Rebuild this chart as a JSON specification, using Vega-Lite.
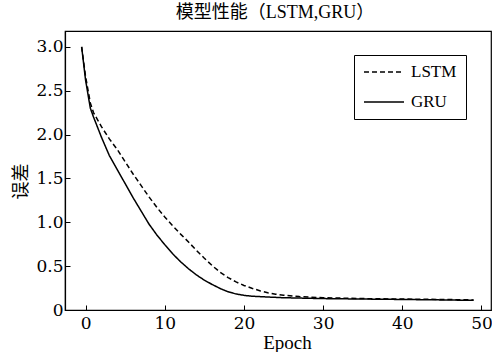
{
  "$schema": "https://vega.github.io/schema/vega-lite/v6.json",
  "autosize": {"type": "none"},
  "width": 426,
  "height": 279,
  "padding": {"left": 65, "top": 31, "right": 1, "bottom": 42},
  "background": "white",
  "title": {
    "text": "模型性能（LSTM,GRU）",
    "font": "Liberation Serif, Noto Sans CJK SC",
    "fontSize": 18,
    "fontWeight": "normal",
    "color": "black",
    "anchor": "middle",
    "offset": 9,
    "dx": -3
  },
  "config": {
    "view": {"stroke": "black", "strokeWidth": 1.2},
    "axis": {
      "labelFont": "DejaVu Serif",
      "labelFontSize": 17,
      "labelColor": "black",
      "titleFont": "Liberation Serif, Noto Sans CJK SC",
      "titleFontSize": 18,
      "titleFontWeight": "normal",
      "titleColor": "black",
      "domainColor": "black",
      "domainWidth": 1.2,
      "tickColor": "black",
      "tickSize": -5,
      "grid": false
    }
  },
  "data": {
    "values": [
      {"epoch": -0.5, "model": "LSTM", "error": 3.0},
      {"epoch": 0, "model": "LSTM", "error": 2.66},
      {"epoch": 0.6, "model": "LSTM", "error": 2.36},
      {"epoch": 1, "model": "LSTM", "error": 2.25},
      {"epoch": 2, "model": "LSTM", "error": 2.09},
      {"epoch": 3, "model": "LSTM", "error": 1.95},
      {"epoch": 4, "model": "LSTM", "error": 1.83},
      {"epoch": 5, "model": "LSTM", "error": 1.69},
      {"epoch": 6, "model": "LSTM", "error": 1.55},
      {"epoch": 7, "model": "LSTM", "error": 1.42},
      {"epoch": 8, "model": "LSTM", "error": 1.29},
      {"epoch": 9, "model": "LSTM", "error": 1.17},
      {"epoch": 10, "model": "LSTM", "error": 1.06},
      {"epoch": 11, "model": "LSTM", "error": 0.96},
      {"epoch": 12, "model": "LSTM", "error": 0.865},
      {"epoch": 13, "model": "LSTM", "error": 0.775},
      {"epoch": 14, "model": "LSTM", "error": 0.68},
      {"epoch": 15, "model": "LSTM", "error": 0.59},
      {"epoch": 16, "model": "LSTM", "error": 0.505},
      {"epoch": 17, "model": "LSTM", "error": 0.43},
      {"epoch": 18, "model": "LSTM", "error": 0.37},
      {"epoch": 19, "model": "LSTM", "error": 0.32},
      {"epoch": 20, "model": "LSTM", "error": 0.28},
      {"epoch": 21, "model": "LSTM", "error": 0.248},
      {"epoch": 22, "model": "LSTM", "error": 0.22},
      {"epoch": 23, "model": "LSTM", "error": 0.197},
      {"epoch": 24, "model": "LSTM", "error": 0.18},
      {"epoch": 25, "model": "LSTM", "error": 0.168},
      {"epoch": 27, "model": "LSTM", "error": 0.153},
      {"epoch": 30, "model": "LSTM", "error": 0.14},
      {"epoch": 35, "model": "LSTM", "error": 0.13},
      {"epoch": 40, "model": "LSTM", "error": 0.125},
      {"epoch": 45, "model": "LSTM", "error": 0.12},
      {"epoch": 49, "model": "LSTM", "error": 0.115},
      {"epoch": -0.5, "model": "GRU", "error": 3.0},
      {"epoch": 0, "model": "GRU", "error": 2.62},
      {"epoch": 0.6, "model": "GRU", "error": 2.3},
      {"epoch": 1, "model": "GRU", "error": 2.2},
      {"epoch": 2, "model": "GRU", "error": 1.97},
      {"epoch": 3, "model": "GRU", "error": 1.76},
      {"epoch": 4, "model": "GRU", "error": 1.6},
      {"epoch": 5, "model": "GRU", "error": 1.44},
      {"epoch": 6, "model": "GRU", "error": 1.28},
      {"epoch": 7, "model": "GRU", "error": 1.13},
      {"epoch": 8, "model": "GRU", "error": 0.98},
      {"epoch": 9, "model": "GRU", "error": 0.855},
      {"epoch": 10, "model": "GRU", "error": 0.745},
      {"epoch": 11, "model": "GRU", "error": 0.64},
      {"epoch": 12, "model": "GRU", "error": 0.55},
      {"epoch": 13, "model": "GRU", "error": 0.47},
      {"epoch": 14, "model": "GRU", "error": 0.4},
      {"epoch": 15, "model": "GRU", "error": 0.34},
      {"epoch": 16, "model": "GRU", "error": 0.29},
      {"epoch": 17, "model": "GRU", "error": 0.245},
      {"epoch": 18, "model": "GRU", "error": 0.207},
      {"epoch": 19, "model": "GRU", "error": 0.183},
      {"epoch": 20, "model": "GRU", "error": 0.167},
      {"epoch": 21, "model": "GRU", "error": 0.157},
      {"epoch": 23, "model": "GRU", "error": 0.148},
      {"epoch": 25, "model": "GRU", "error": 0.14},
      {"epoch": 30, "model": "GRU", "error": 0.13},
      {"epoch": 35, "model": "GRU", "error": 0.125},
      {"epoch": 40, "model": "GRU", "error": 0.12},
      {"epoch": 45, "model": "GRU", "error": 0.115},
      {"epoch": 49, "model": "GRU", "error": 0.11}
    ]
  },
  "mark": {"type": "line", "color": "black", "strokeWidth": 1.5},
  "encoding": {
    "x": {
      "field": "epoch",
      "type": "quantitative",
      "scale": {"domain": [-2.6, 51.2], "nice": false, "zero": false},
      "axis": {
        "values": [0, 10, 20, 30, 40, 50],
        "title": "Epoch",
        "titleFontSize": 19,
        "labelPadding": 10,
        "titleX": 222,
        "titleY": 32,
        "titleAlign": "center",
        "titleBaseline": "middle"
      }
    },
    "y": {
      "field": "error",
      "type": "quantitative",
      "scale": {"domain": [0, 3.18], "nice": false},
      "axis": {
        "values": [0, 0.5, 1, 1.5, 2, 2.5, 3],
        "labelExpr": "datum.value == 0 ? '0' : format(datum.value, '.1f')",
        "title": "误差",
        "labelPadding": 7,
        "titleX": -44,
        "titleY": 150,
        "titleAngle": -90,
        "titleAlign": "center",
        "titleBaseline": "middle"
      }
    },
    "strokeDash": {
      "field": "model",
      "type": "nominal",
      "scale": {"domain": ["LSTM", "GRU"], "range": [[5, 3], [1, 0]]},
      "legend": {
        "title": null,
        "orient": "none",
        "legendX": 289,
        "legendY": 24,
        "strokeColor": "black",
        "fillColor": "white",
        "padding": 9,
        "symbolType": "stroke",
        "symbolSize": 1600,
        "symbolStrokeWidth": 1.5,
        "symbolStrokeColor": "black",
        "clipHeight": 16,
        "labelFont": "Liberation Serif",
        "labelFontSize": 17,
        "labelColor": "black",
        "labelOffset": 6,
        "rowPadding": 13
      }
    }
  }
}
